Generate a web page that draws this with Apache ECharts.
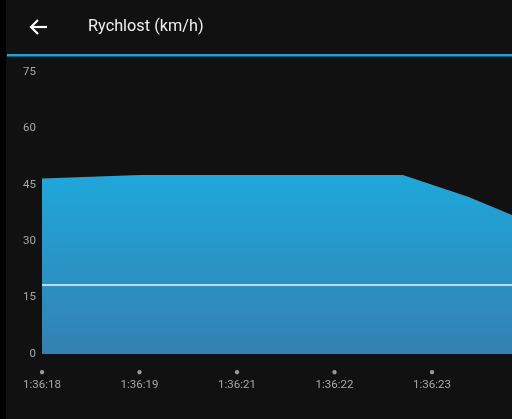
<!DOCTYPE html>
<html><head><meta charset="utf-8">
<script src="https://cdn.jsdelivr.net/npm/echarts@6/dist/echarts.min.js"></script>
<style>html,body{margin:0;padding:0;background:#111;}#c{width:512px;height:419px;}</style>
</head><body><div id="c"></div>
<script>
const title = 'Rychlost (km/h)';
const tickLabels = ['1:36:18', '1:36:19', '1:36:21', '1:36:22', '1:36:23'];
const xPos = [0, 1.0, 3.70, 4.37, 4.82];
const speed = [46.7, 47.6, 47.6, 41.8, 37.0];
const avgSpeed = 18.3;
const yTicks = [0, 15, 30, 45, 60, 75];

const chart = echarts.init(document.getElementById('c'), null, {renderer: 'canvas'});
chart.setOption({
  backgroundColor: '#111111',
  animation: false,
  graphic: [
    {type: 'rect', shape: {x: 0, y: 0, width: 6, height: 419}, style: {fill: '#000'}, z: 10},
    {type: 'rect', shape: {x: 7, y: 54, width: 505, height: 2.5}, style: {fill: '#1e9fd6'}, z: 10},
    {type: 'polyline', shape: {points: [[47, 27], [31, 27]]}, style: {stroke: '#fff', lineWidth: 2.2, fill: null}, z: 10},
    {type: 'polyline', shape: {points: [[38, 20], [31, 27], [38, 34]]}, style: {stroke: '#fff', lineWidth: 2.2, fill: null}, z: 10},
    {type: 'text', left: 88, top: 19, style: {text: title, fill: '#f0f0f0', font: '16.3px Roboto'}, z: 10}
  ],
  grid: {left: 42, right: 0, top: 72, bottom: 65},
  xAxis: {
    type: 'value', min: 0, max: 4.82, interval: 1,
    axisLine: {show: false}, axisTick: {show: false}, splitLine: {show: false},
    axisLabel: {
      margin: 12, showMaxLabel: false,
      formatter: v => { const i = Math.round(v); return tickLabels[i] !== undefined ? '{d|●}\n{t|' + tickLabels[i] + '}' : ''; },
      rich: {
        d: {color: '#9a9a9a', fontSize: 10, lineHeight: 12, align: 'center'},
        t: {color: '#a8a8a8', fontSize: 11.5, fontFamily: 'Roboto', lineHeight: 14, align: 'center'}
      }
    }
  },
  yAxis: {
    type: 'value', min: 0, max: 75, interval: 15,
    axisLine: {show: false}, axisTick: {show: false}, splitLine: {show: false},
    axisLabel: {color: '#a8a8a8', fontSize: 11.5, fontFamily: 'Roboto', margin: 6,
      formatter: v => yTicks.includes(v) ? String(v) : ''}
  },
  series: [{
    type: 'line',
    data: xPos.map((x, i) => [x, speed[i]]),
    symbol: 'none',
    lineStyle: {width: 0},
    areaStyle: {
      opacity: 1,
      color: new echarts.graphic.LinearGradient(0, 0, 0, 1, [
        {offset: 0, color: '#1fa7da'},
        {offset: 1, color: '#3480b2'}
      ])
    },
    markLine: {
      silent: true, symbol: 'none', label: {show: false},
      lineStyle: {color: '#e8f6ff', width: 1.5, type: 'solid'},
      data: [{yAxis: avgSpeed}]
    }
  }]
});
</script></body></html>
